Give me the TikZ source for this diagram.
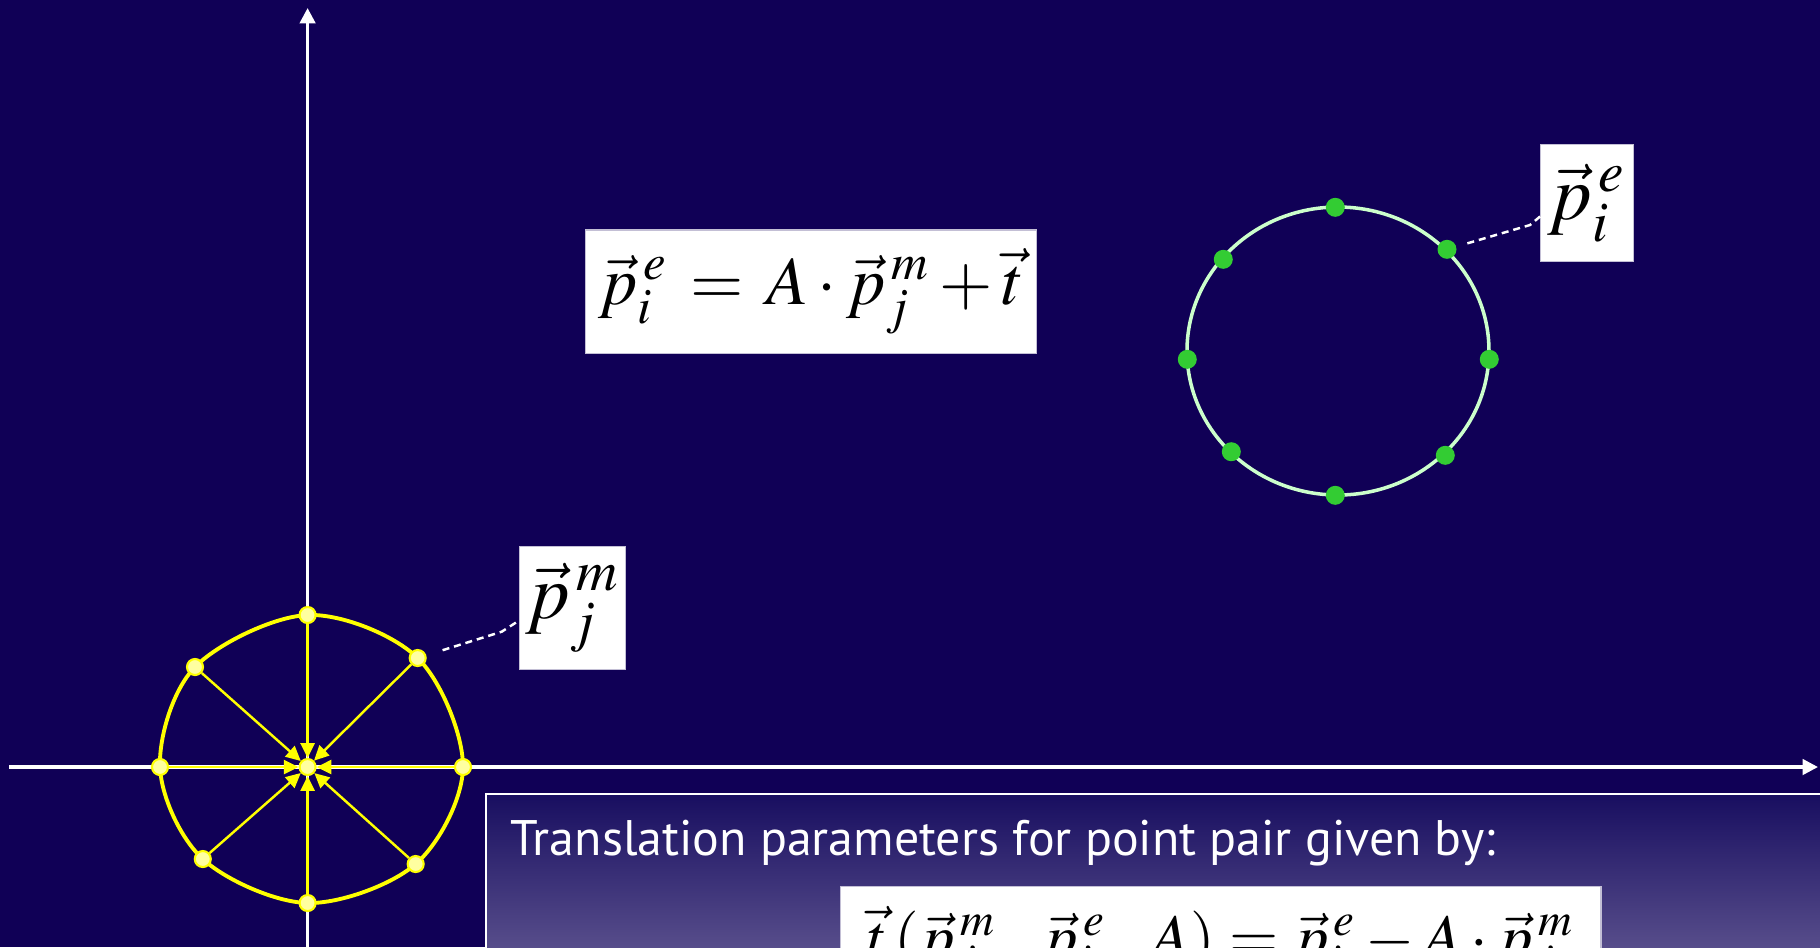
\documentclass[tikz,border=0pt]{standalone}
\usepackage{mathptmx}
\usepackage[no-math]{fontspec}
\newfontfamily\gillfont{PT Sans}
\usetikzlibrary{arrows.meta}
\definecolor{pozadina}{RGB}{16,0,86}
\definecolor{zuta}{RGB}{255,255,0}
\definecolor{svetlozuta}{RGB}{255,255,160}
\definecolor{zelena}{RGB}{51,204,51}
\definecolor{svetlozelena}{RGB}{204,255,204}
\definecolor{kutijagore}{RGB}{24,14,96}
\definecolor{kutijadole}{RGB}{92,82,142}
\tikzset{
  osa/.style={draw=white,line width=0.95pt,-{Triangle[length=4.4pt,width=4.4pt]}},
  ztacka/.style={circle,draw=zuta,fill=svetlozuta,line width=0.6pt,inner sep=0pt,
                 minimum size=0.16cm},
  gtacka/.style={circle,fill=zelena,inner sep=0pt,minimum size=0.19cm},
  zstr/.style={zuta,line width=0.7pt,-{Triangle[length=4.2pt,width=4pt]}},
  vodic/.style={white,line width=0.7pt,dash pattern=on 2pt off 1.4pt},
  natpis/.style={fill=white,draw=white!75!pozadina,line width=0.3pt,inner sep=0pt,
                 font=\fontsize{22}{25}\selectfont},
}

\begin{document}
\begin{tikzpicture}[x=0.01cm,y=-0.01cm]

  % ---------- POZADINA ----------
  \path[use as bounding box,fill=pozadina] (0,0) rectangle (1820,947);
  \clip (0,0) rectangle (1820,947);

  % ---------- OSE ----------
  \draw[osa] (9,767) -- (1818,767);
  \draw[osa] (307.6,960) -- (307.6,8);

  % ---------- MODEL (zuto) ----------
  \coordinate (p1) at (307.6,615);
  \coordinate (p2) at (417.7,658);
  \coordinate (p3) at (463,767);
  \coordinate (p4) at (415.7,864);
  \coordinate (p5) at (307.6,903);
  \coordinate (p6) at (202.8,859);
  \coordinate (p7) at (160,767);
  \coordinate (p8) at (195,667);
  \draw[zuta,line width=1.1pt] plot[smooth cycle,tension=0.55]
       coordinates {(p1) (p2) (p3) (p4) (p5) (p6) (p7) (p8)};
  \foreach \i in {1,...,8}
    \node[ztacka] (y\i) at (p\i) {};
  \node[ztacka] (yc) at (307.6,767) {};
  \foreach \i in {1,...,8}
    \draw[zstr] (y\i) -- (yc);

  % ---------- SCENA (zeleno) ----------
  \draw[svetlozelena,line width=1pt] (1338,351) ellipse [x radius=151,y radius=144];
  \node[gtacka] (g1) at (1335.3,207.3) {};
  \node[gtacka] (g2) at (1447,249.3) {};
  \node[gtacka] (g3) at (1489.3,359.3) {};
  \node[gtacka] (g4) at (1445.3,455.3) {};
  \node[gtacka] (g5) at (1335.3,495.3) {};
  \node[gtacka] (g6) at (1231.3,451.7) {};
  \node[gtacka] (g7) at (1187.3,359.3) {};
  \node[gtacka] (g8) at (1223.3,259.3) {};

  % ---------- NATPISI ----------
  \node[natpis,minimum width=1.057cm,minimum height=1.226cm] (labm) at (572.8,608)
       {$\vec p^{\,m}_j$};
  \node[natpis,minimum width=0.926cm,minimum height=1.166cm] (labe) at (1587,203)
       {$\vec p^{\,e}_i$};
  \node[natpis,minimum width=4.5cm,minimum height=1.23cm,font=\fontsize{19.5}{23}\selectfont]
       (formula) at (811,291.5)
       {$\vec p^{\,e}_i \,=\, A\cdot\vec p^{\,m}_j+\vec t$};

  \coordinate (bm) at (501.7,631.7);
  \coordinate (be) at (1530,225);
  \draw[vodic,shorten <=0.17cm] (y2) -- (bm) -- (labm.193);
  \draw[vodic,shorten <=0.11cm] (g2) -- (be) -- (labe.196);

  % ---------- DONJI OKVIR ----------
  \draw[white,line width=0.8pt,top color=kutijagore,bottom color=kutijadole]
       (486,794) rectangle (1840,960);
  \node[anchor=base west,text=white,font=\gillfont\fontsize{14.2}{17}\selectfont]
       (tekst) at (498,855) {Translation parameters for point pair given by:};
  \node[natpis,anchor=north west,text width=7.6cm,align=center,inner ysep=0.2cm,
        font=\fontsize{18}{22}\selectfont] (tformula) at (840,886)
       {\mbox{$\vec t\,(\vec p^{\,m}_j,\ \vec p^{\,e}_i,\ A) = \vec p^{\,e}_i - A\cdot\vec p^{\,m}_j$}};

\end{tikzpicture}
\end{document}
